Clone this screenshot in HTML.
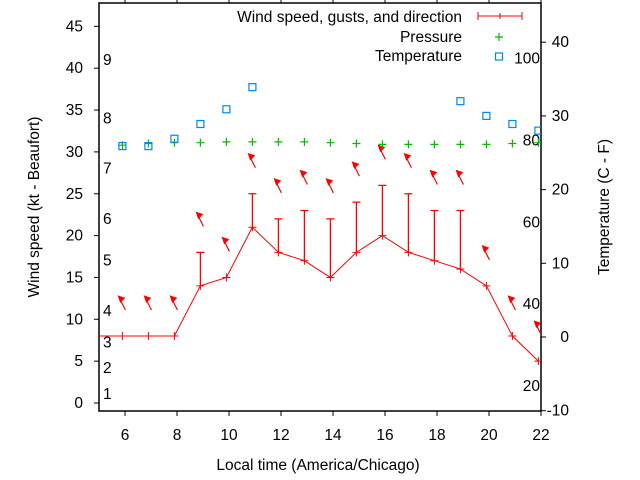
<!DOCTYPE html>
<html><head><meta charset="utf-8"><style>
body{margin:0;background:#fff}
svg{display:block;font-family:"Liberation Sans",sans-serif}
</style></head><body>
<svg id="chart" width="640" height="480" xmlns="http://www.w3.org/2000/svg">
<g id="axes"></g><g id="marks"></g><g id="legend"></g>
</svg>
<script>
const hours = [4.9,5.9,6.9,7.9,8.9,9.9,10.9,11.9,12.9,13.9,14.9,15.9,16.9,17.9,18.9,19.9,20.9,21.9];
const windSpeed = [8,8,8,8,14,15,21,18,17,15,18,20,18,17,16,14,8,5];
const gusts = [null,null,null,null,18,null,25,22,23,22,24,26,25,23,23,null,null,null];
const pressure = [null,30.8,31.0,31.1,31.1,31.2,31.2,31.2,31.2,31.1,31.0,30.9,30.9,30.9,30.9,30.9,31.0,31.1];
const tempC = [null,25.9,25.9,26.9,28.9,30.9,33.9,null,null,null,null,null,null,null,32.0,30.0,28.9,28.0];
const hasArrow = [false,true,true,true,true,true,true,true,true,true,true,true,true,true,true,true,true,true];
const xTicks = [6,8,10,12,14,16,18,20,22];
const yTicks = [0,5,10,15,20,25,30,35,40,45];
const y2Ticks = [-10,0,10,20,30,40];
const beaufortLabels = ["1","2","3","4","5","6","7","8","9"];
const beaufortValues = [1.1,4.2,7.2,11,17,22,28,34,41];
const fahrLabels = ["20","40","60","80","100"];
const fahrValues = [20,40,60,80,100];

const L=99,R=541,T=3,B=411;
const FS=15.5;
const xs=h=>99+(h-5)*26;
const ys=v=>403-v*8.37;
const y2s=c=>337-c*7.37;
const NS="http://www.w3.org/2000/svg";
function mk(tag,parent,attrs,txt){const e=document.createElementNS(NS,tag);for(const k in attrs)e.setAttribute(k,attrs[k]);if(txt!==undefined)e.textContent=txt;parent.appendChild(e);return e;}
const axes=document.getElementById('axes'),marks=document.getElementById('marks'),leg=document.getElementById('legend');

let f=mk('rect',axes,{x:L,y:T,width:R-L,height:B-T,fill:'none',stroke:'#000','stroke-width':1.5});


xTicks.forEach(t=>{const x=xs(t);
 let l=mk('line',axes,{x1:x,x2:x,y1:B,y2:B+5,stroke:'#000'});
 
 
 let l2=mk('line',axes,{x1:x,x2:x,y1:T,y2:T-5,stroke:'#000'});
 
 
 let tx=mk('text',axes,{x:x,y:440,'text-anchor':'middle','font-size':FS},String(t));
 
 });
yTicks.forEach(t=>{const y=ys(t);
 let l=mk('line',axes,{x1:L-5,x2:L,y1:y,y2:y,stroke:'#000'});
 
 
 let tx=mk('text',axes,{x:83,y:y+5,'text-anchor':'end','font-size':FS},String(t));
 
 });
y2Ticks.forEach(t=>{const y=y2s(t);
 let l=mk('line',axes,{x1:R,x2:R+5,y1:y,y2:y,stroke:'#000'});
 
 
 let tx=mk('text',axes,{x:569,y:y+5,'text-anchor':'end','font-size':FS},String(t));
 
 });
beaufortLabels.forEach((b,i)=>{let tx=mk('text',axes,{x:103,y:ys(beaufortValues[i])+5,'font-size':FS},b);
 
 });
fahrLabels.forEach((b,i)=>{const c=(fahrValues[i]-32)*5/9;let tx=mk('text',axes,{x:540,y:y2s(c)+5,'text-anchor':'end','font-size':FS},b);
 
 });
let t1=mk('text',axes,{x:318,y:470,'text-anchor':'middle','font-size':FS},'Local time (America/Chicago)');


let t2=mk('text',axes,{x:0,y:0,transform:'translate(39,207) rotate(-90)','text-anchor':'middle','font-size':FS},'Wind speed (kt - Beaufort)');


let t3=mk('text',axes,{x:0,y:0,transform:'translate(609,207) rotate(-90)','text-anchor':'middle','font-size':FS},'Temperature (C - F)');



const clip=mk('clipPath',marks,{id:'pc'});mk('rect',clip,{x:L,y:T,width:R-L,height:B-T});
const g=mk('g',marks,{'clip-path':'url(#pc)'});
let pts=hours.map((h,i)=>xs(h)+','+ys(windSpeed[i])).join(' ');
let wl=mk('polyline',g,{points:pts,fill:'none',stroke:'#f00','stroke-width':1});


hours.forEach((h,i)=>{const x=xs(h),y=ys(windSpeed[i]);
 let p=mk('path',g,{d:`M${x-4},${y}h8M${x},${y-4}v8`,stroke:'#f00'});
 
 
 if(gusts[i]!=null){const yg=ys(gusts[i]);
  let e=mk('path',g,{d:`M${x},${y}V${yg}M${x-4},${yg}h8`,stroke:'#f00','stroke-width':1.3});
  
  }
 if(hasArrow[i]){const top=Math.max(windSpeed[i],gusts[i]||0);const yb=ys(top)-26;
  let a=mk('path',g,{d:`M${x+3},${yb}L${x-3},${yb-12}`,stroke:'#f00','stroke-width':1.2});
  
  
  let ah=mk('path',g,{d:`M${x-4},${yb-14}l6,2l-4,4z`,fill:'#f00',stroke:'#f00'});
  
  }
 if(pressure[i]!=null){const py=ys(pressure[i]);
  let p2=mk('path',g,{d:`M${x-4},${py}h8M${x},${py-4}v8`,stroke:'#0b0','stroke-width':1.2});
  
  }
 if(tempC[i]!=null){const ty=y2s(tempC[i]);
  let s=mk('rect',g,{x:x-3.5,y:ty-3.5,width:7,height:7,fill:'none',stroke:'#08e','stroke-width':1.2});
  
  }
});

const lg=[['Wind speed, gusts, and direction',17],['Pressure',37],['Temperature',56]];
lg.forEach((r,i)=>{let tx=mk('text',leg,{x:462,y:r[1]+5,'text-anchor':'end','font-size':FS},r[0]);
 
 });
let ls=mk('path',leg,{d:'M478,16h44M478,12v8M522,12v8M500,13v6',stroke:'#f00'});


let lp=mk('path',leg,{d:'M495,37h8M499,33v8',stroke:'#0b0','stroke-width':1.2});


let lt=mk('rect',leg,{x:495.5,y:53,width:7,height:7,fill:'none',stroke:'#08e','stroke-width':1.2});


</script>
</body></html>
